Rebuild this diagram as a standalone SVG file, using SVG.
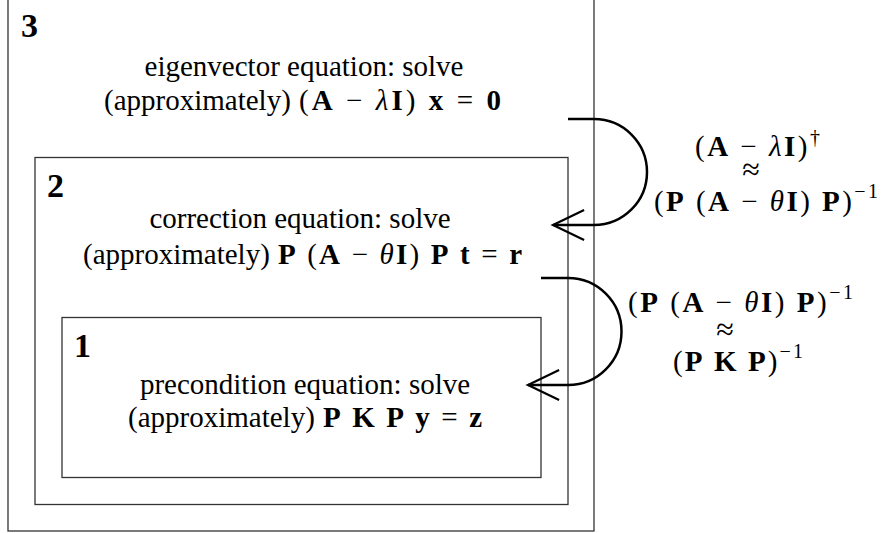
<svg xmlns="http://www.w3.org/2000/svg" width="881" height="533" viewBox="0 0 881 533">
<style>
.box{fill:none;stroke:#333;stroke-width:1.3}
.lbl{font-family:"Liberation Serif",serif;font-weight:bold;font-size:34px;fill:#000}
.t{font-family:"Liberation Serif",serif;font-size:29px;fill:#000}
.c{text-anchor:middle}
.b{font-weight:bold}
.i{font-style:italic}
.sup{font-size:20px}
.ap{font-size:32px}
.arr{fill:none;stroke:#000;stroke-width:2.5}
</style>
<defs>
<marker id="ah" markerUnits="userSpaceOnUse" markerWidth="40" markerHeight="40" viewBox="-32 -18 36 36" refX="0" refY="0" orient="auto">
<path d="M-28,-13.5 L0,0 L-28,13.5" fill="none" stroke="#000" stroke-width="2"/>
</marker>
</defs>
<rect width="881" height="533" fill="#fff"/>
<g id="node3">
<rect class="box" x="8" y="-2" width="586" height="533"/>
<text class="lbl" x="21" y="37">3</text>
<text class="t c" x="304" y="76">eigenvector equation: solve</text>
<text class="t" x="104" y="110">(approximately)</text>
<text class="t" x="299" y="110" textLength="202" lengthAdjust="spacing">(<tspan class="b">A</tspan> − <tspan class="i">λ</tspan><tspan class="b">I</tspan>) <tspan class="b">x</tspan> = <tspan class="b">0</tspan></text>
</g>
<g id="node2">
<rect class="box" x="35" y="157.5" width="533" height="347"/>
<text class="lbl" x="47" y="197">2</text>
<text class="t c" x="300" y="228">correction equation: solve</text>
<text class="t" x="83" y="264">(approximately)</text>
<text class="t" x="278" y="264" textLength="244" lengthAdjust="spacing"><tspan class="b">P</tspan> (<tspan class="b">A</tspan> − <tspan class="i">θ</tspan><tspan class="b">I</tspan>) <tspan class="b">P</tspan> <tspan class="b">t</tspan> = <tspan class="b">r</tspan></text>
</g>
<g id="node1">
<rect class="box" x="62" y="317.5" width="479" height="160"/>
<text class="lbl" x="74" y="357">1</text>
<text class="t c" x="305" y="394">precondition equation: solve</text>
<text class="t" x="128" y="427">(approximately)</text>
<text class="t" x="323" y="427" textLength="159" lengthAdjust="spacing"><tspan class="b">P</tspan> <tspan class="b">K</tspan> <tspan class="b">P</tspan> <tspan class="b">y</tspan> = <tspan class="b">z</tspan></text>
</g>
<g id="connectors">
<path class="arr" d="M568,119 H594 A53,53 0 0 1 594,225 H553" marker-end="url(#ah)"/>
<path class="arr" d="M541,278 H568 A53.5,53.5 0 0 1 568,385 H528" marker-end="url(#ah)"/>
</g>
<g id="labels">
<text class="t" x="695" y="156" textLength="125" lengthAdjust="spacing">(<tspan class="b">A</tspan> − <tspan class="i">λ</tspan><tspan class="b">I</tspan>)<tspan class="sup" dy="-12">†</tspan></text>
<text class="t c ap" x="751" y="180">≈</text>
<text class="t" x="654" y="211" textLength="224" lengthAdjust="spacing">(<tspan class="b">P</tspan> (<tspan class="b">A</tspan> − <tspan class="i">θ</tspan><tspan class="b">I</tspan>) <tspan class="b">P</tspan>)<tspan class="sup" dy="-13">−1</tspan></text>
<text class="t" x="628" y="312" textLength="225" lengthAdjust="spacing">(<tspan class="b">P</tspan> (<tspan class="b">A</tspan> − <tspan class="i">θ</tspan><tspan class="b">I</tspan>) <tspan class="b">P</tspan>)<tspan class="sup" dy="-13">−1</tspan></text>
<text class="t c ap" x="725" y="340">≈</text>
<text class="t" x="673" y="371" textLength="130" lengthAdjust="spacing">(<tspan class="b">P</tspan> <tspan class="b">K</tspan> <tspan class="b">P</tspan>)<tspan class="sup" dy="-13">−1</tspan></text>
</g>
</svg>
